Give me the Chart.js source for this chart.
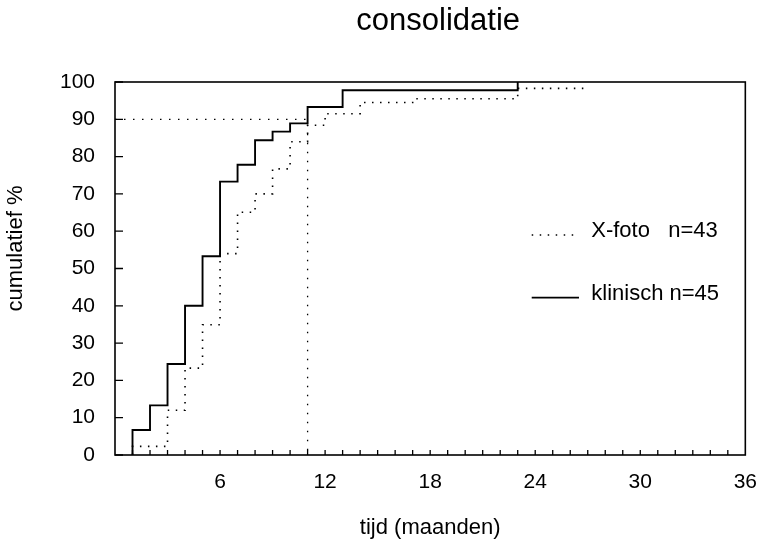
<!DOCTYPE html>
<html>
<head>
<meta charset="utf-8">
<script src="https://cdn.jsdelivr.net/npm/chart.js@4"></script>
<style>
  html, body { margin: 0; padding: 0; background: #fff; }
  #wrap { width: 764px; height: 543px; }
</style>
</head>
<body>
<div id="wrap"><canvas id="chart" width="764" height="543"></canvas></div>
<script>
// klinisch (n=45): month of each step, cumulative % after the step
const klinischMonths = [1, 1, 2, 3, 4, 5, 6, 7, 8, 9, 10, 11, 13, 23];
const klinischPct    = [0, 6.7, 13.3, 24.4, 40, 53.3, 73.3, 77.8, 84.4, 86.7, 88.9, 93.3, 97.8, 100];

// X-foto (n=43)
const xfotoMonths = [1, 1, 3, 4, 5, 6, 7, 8, 9, 10, 11, 12, 14, 17, 23, 27];
const xfotoPct    = [0, 2.3, 12, 23.3, 34.9, 54, 65.1, 70, 76.7, 84, 88.4, 91.5, 94.5, 95.5, 98.3, 98.3];

// 90% reference line (dotted)
const refMonths = [0, 11, 11];
const refPct    = [90, 90, 0];

const xTickLabels = [6, 12, 18, 24, 30, 36];
const yTickLabels = [0, 10, 20, 30, 40, 50, 60, 70, 80, 90, 100];
const xMinorTicks = [1, 2, 3, 4, 5, 6, 7, 8, 9, 10, 11, 12, 13, 14, 15, 16, 17, 18,
                     19, 20, 21, 22, 23, 24, 25, 26, 27, 28, 29, 30, 31, 32, 33, 34, 35];

// legend: text, and the % level of its sample line
const legendLabels = ['X-foto   n=43', 'klinisch n=45'];
const legendPct    = [59, 42.2];

const titleText  = 'consolidatie';
const yTitleText = 'cumulatief %';

const FONT = "'Liberation Sans', Arial, Helvetica, sans-serif";
Chart.defaults.font.family = FONT;
Chart.defaults.color = '#000';

const toXY = (xs, ys) => xs.map((x, i) => ({ x, y: ys[i] }));
const DOTS = [1.5, 6.5];

// frame round the plot, inward tick marks, titles and the in-plot legend
const framePlugin = {
  id: 'frame',
  afterDatasetsDraw(chart) {
    const { ctx, chartArea: a, scales: { x, y } } = chart;
    ctx.save();
    ctx.strokeStyle = '#000';
    ctx.lineWidth = 1.6;
    ctx.strokeRect(a.left, a.top, a.right - a.left, a.bottom - a.top);

    ctx.lineWidth = 1.3;
    ctx.beginPath();
    yTickLabels.forEach(v => {
      const py = y.getPixelForValue(v);
      ctx.moveTo(a.left, py);
      ctx.lineTo(a.left + 8, py);
    });
    xMinorTicks.forEach(v => {
      const px = x.getPixelForValue(v);
      ctx.moveTo(px, a.bottom);
      ctx.lineTo(px, a.bottom - 5);
    });
    ctx.stroke();

    // legend
    const x0 = x.getPixelForValue(23.8), x1 = x.getPixelForValue(26.5), xt = x.getPixelForValue(27.2);
    ctx.font = '22px ' + FONT;
    ctx.fillStyle = '#000';
    ctx.textAlign = 'left';
    ctx.textBaseline = 'middle';
    legendLabels.forEach((label, i) => {
      const py = y.getPixelForValue(legendPct[i]);
      ctx.setLineDash(i === 0 ? DOTS : []);
      ctx.lineWidth = i === 0 ? 1.6 : 1.8;
      ctx.beginPath();
      ctx.moveTo(x0, py);
      ctx.lineTo(x1, py);
      ctx.stroke();
      ctx.setLineDash([]);
      ctx.fillText(label, xt, py - 4);
    });

    // chart title, centred over the plot
    ctx.textAlign = 'center';
    ctx.font = '31px ' + FONT;
    ctx.fillText(titleText, (a.left + a.right) / 2 + 8, 21);

    // y axis title
    ctx.font = '22px ' + FONT;
    ctx.translate(16, (a.top + a.bottom) / 2 - 20);
    ctx.rotate(-Math.PI / 2);
    ctx.fillText(yTitleText, 0, 0);
    ctx.restore();
  }
};

new Chart(document.getElementById('chart'), {
  type: 'line',
  data: {
    datasets: [
      { label: 'klinisch n=45', data: toXY(klinischMonths, klinischPct), stepped: 'before',
        borderColor: '#000', borderWidth: 1.9, pointRadius: 0 },
      { label: 'X-foto n=43', data: toXY(xfotoMonths, xfotoPct), stepped: 'before',
        borderColor: '#000', borderWidth: 1.6, borderDash: DOTS, pointRadius: 0 },
      { label: '90%', data: toXY(refMonths, refPct),
        borderColor: '#000', borderWidth: 1.3, borderDash: [1.5, 7.5], pointRadius: 0 },
    ],
  },
  options: {
    responsive: false, animation: false,
    layout: { padding: { left: 0, right: 14, top: 82, bottom: 0 } },
    plugins: {
      legend: { display: false },
      tooltip: { enabled: false },
      title: { display: false },
    },
    scales: {
      x: {
        type: 'linear', min: 0, max: 36,
        border: { display: false }, grid: { display: false },
        afterBuildTicks: s => { s.ticks = xTickLabels.map(v => ({ value: v })); },
        afterFit: s => { s.height = 88; },
        ticks: { padding: 7, color: '#000', font: { size: 21 }, maxRotation: 0 },
        title: { display: true, text: 'tijd (maanden)', color: '#000', font: { size: 22 }, padding: { top: 0, bottom: 2 } },
      },
      y: {
        type: 'linear', min: 0, max: 100,
        border: { display: false }, grid: { display: false },
        afterBuildTicks: s => { s.ticks = yTickLabels.map(v => ({ value: v })); },
        afterFit: s => { s.width = 115; },
        ticks: { padding: 12, color: '#000', font: { size: 21 } },
      },
    },
  },
  plugins: [framePlugin],
});
</script>
</body>
</html>
